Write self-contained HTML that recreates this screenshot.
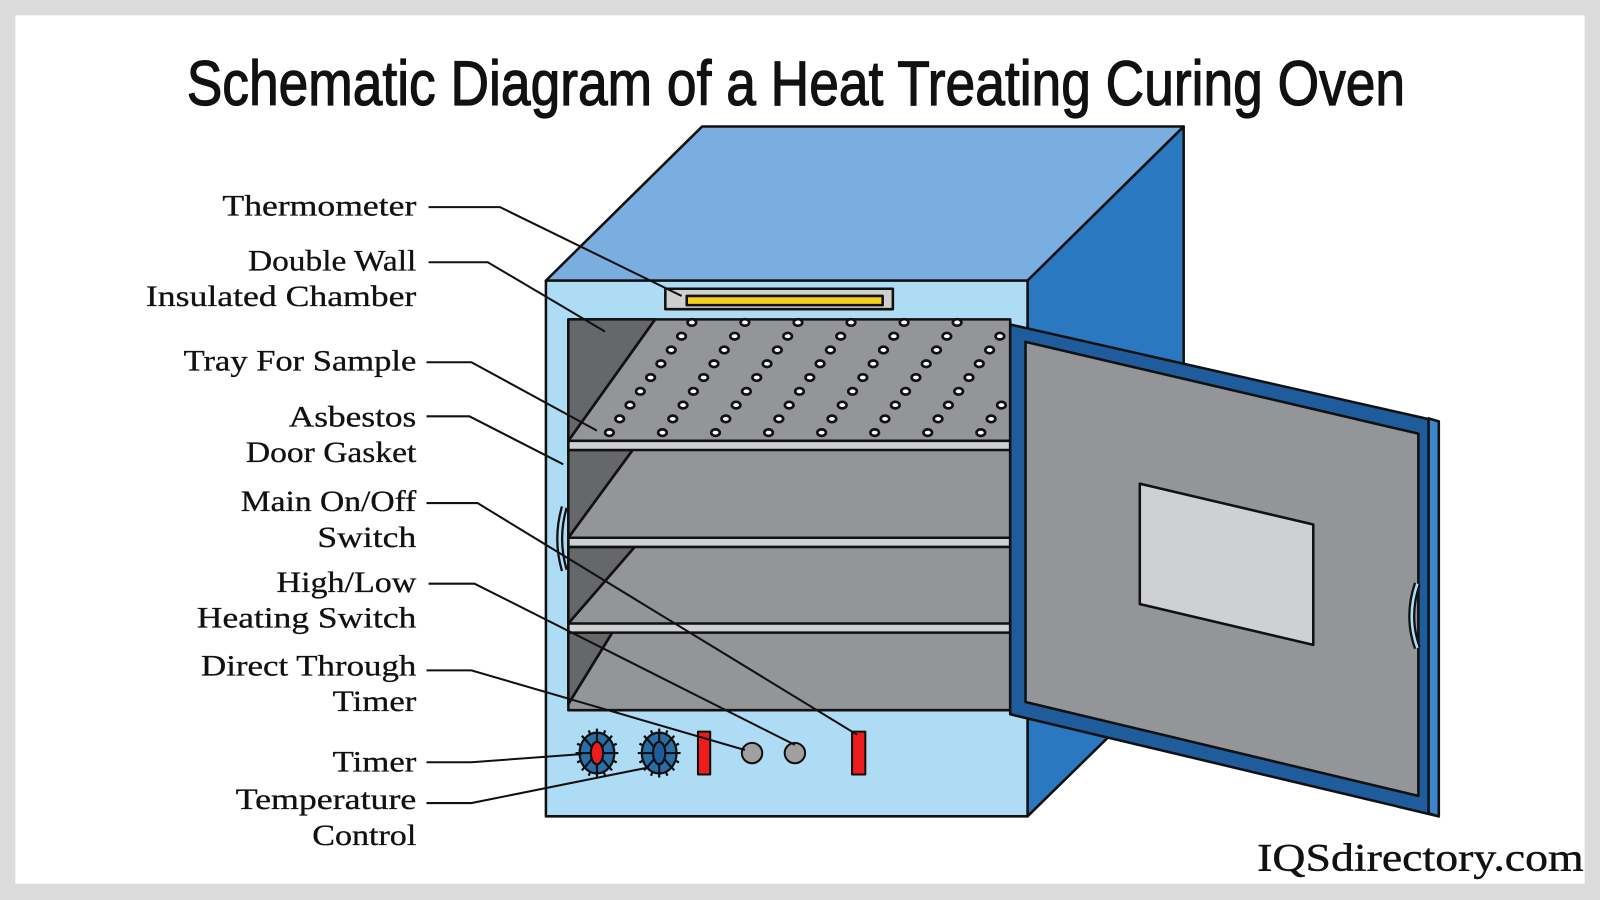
<!DOCTYPE html>
<html><head><meta charset="utf-8"><style>
html,body{margin:0;padding:0;width:1600px;height:900px;overflow:hidden;background:#dcdcdc}
svg{display:block}
.lbl{font-family:"Liberation Serif",serif;font-size:29px;fill:#111;text-anchor:end;stroke:#111;stroke-width:0.3}
</style></head><body>
<svg id="s" width="1600" height="900" viewBox="0 0 1568 882" preserveAspectRatio="none" xmlns="http://www.w3.org/2000/svg">
<rect x="0" y="0" width="1568" height="882" fill="#dcdcdc"/>
<rect x="15" y="15" width="1538" height="851" fill="#fff"/>
<text x="780" y="103" font-family="Liberation Sans Narrow,Liberation Sans,sans-serif" font-size="62" fill="#111" stroke="#111" stroke-width="1.2" text-anchor="middle" textLength="1194" lengthAdjust="spacingAndGlyphs">Schematic Diagram of a Heat Treating Curing Oven</text>

<g stroke="#111" stroke-width="2.5" stroke-linejoin="round">
<polygon points="535,275 688,124 1160,124 1007,275" fill="#7aaee0"/>
<polygon points="1007,275 1160,124 1160,650 1007,800" fill="#2a78c0"/>
<rect x="535" y="275" width="472" height="525" fill="#aedcf5"/>
<rect x="557" y="313" width="433" height="383" fill="#939598"/>
<polygon points="557,313 642,313 557,432" fill="#666769"/>
<polygon points="557,441 620,441 557,527" fill="#666769"/>
<polygon points="557,536 622,536 557,611" fill="#666769"/>
<polygon points="557,620 600,620 557,690" fill="#666769"/>
<line x1="642" y1="313" x2="557" y2="432"/>
<line x1="620" y1="441" x2="557" y2="527"/>
<line x1="622" y1="536" x2="557" y2="611"/>
<line x1="600" y1="620" x2="557" y2="690"/>
<rect x="557" y="432" width="433" height="9" fill="#cfd0d2"/>
<rect x="557" y="527" width="433" height="9" fill="#cfd0d2"/>
<rect x="557" y="611" width="433" height="9" fill="#cfd0d2"/>
<rect x="652" y="283" width="223" height="20" fill="#cfcfcf"/>
<rect x="673" y="290" width="192" height="9" fill="#f5cf1e"/>
<g id="dots" stroke-width="2.6" fill="#fff"></g>

<path d="M553,497 q-9,31 0,62" fill="none" stroke-width="7"/>
<path d="M553,497 q-9,31 0,62" fill="none" stroke="#aedcf5" stroke-width="2.5"/>

<polygon points="990,318 1410,413 1410,800 990,700" fill="#1e5c9c"/>
<polygon points="1400,410 1410,413 1410,800 1400,797" fill="#3d86cc"/>
<polygon points="1005,335 1390,425 1390,780 1005,688" fill="#939598"/>
<polygon points="1117,474 1287,514 1287,632 1117,592" fill="#cfd0d2"/>
<path d="M1389,572 q-11,32 0,63" fill="none" stroke-width="7"/>
<path d="M1389,572 q-11,32 0,63" fill="none" stroke="#aedcf5" stroke-width="2.5"/>

<rect x="684" y="717" width="12" height="42" fill="#ee1c1c" stroke-width="2"/>
<rect x="835" y="717" width="13" height="42" fill="#ee1c1c" stroke-width="2"/>
<circle cx="737" cy="738" r="10" fill="#a0a0a0" stroke-width="2"/>
<circle cx="779" cy="738" r="10" fill="#a0a0a0" stroke-width="2"/>
<g id="knobs" stroke-width="2.2"></g>
</g>

<g fill="none" stroke="#111" stroke-width="2">
<polyline points="420,203 490,203 668,290"/>
<polyline points="420,257 478,257 593,325"/>
<polyline points="418,355 462,355 585,422"/>
<polyline points="418,408 460,408 552,455"/>
<polyline points="418,493 468,493 840,720"/>
<polyline points="420,572 465,572 779,730"/>
<polyline points="418,657 462,657 730,735"/>
<polyline points="418,747 462,747 570,739"/>
<polyline points="418,787 462,787 636,752"/>
</g>

<text class="lbl" x="408" y="211" textLength="190" lengthAdjust="spacingAndGlyphs">Thermometer</text>
<text class="lbl" x="408" y="265" textLength="165" lengthAdjust="spacingAndGlyphs">Double Wall</text>
<text class="lbl" x="408" y="300" textLength="265" lengthAdjust="spacingAndGlyphs">Insulated Chamber</text>
<text class="lbl" x="408" y="363" textLength="228" lengthAdjust="spacingAndGlyphs">Tray For Sample</text>
<text class="lbl" x="408" y="418" textLength="125" lengthAdjust="spacingAndGlyphs">Asbestos</text>
<text class="lbl" x="408" y="453" textLength="167" lengthAdjust="spacingAndGlyphs">Door Gasket</text>
<text class="lbl" x="408" y="501" textLength="172" lengthAdjust="spacingAndGlyphs">Main On/Off</text>
<text class="lbl" x="408" y="536" textLength="97" lengthAdjust="spacingAndGlyphs">Switch</text>
<text class="lbl" x="408" y="580" textLength="137" lengthAdjust="spacingAndGlyphs">High/Low</text>
<text class="lbl" x="408" y="615" textLength="215" lengthAdjust="spacingAndGlyphs">Heating Switch</text>
<text class="lbl" x="408" y="662" textLength="211" lengthAdjust="spacingAndGlyphs">Direct Through</text>
<text class="lbl" x="408" y="697" textLength="82" lengthAdjust="spacingAndGlyphs">Timer</text>
<text class="lbl" x="408" y="756" textLength="82" lengthAdjust="spacingAndGlyphs">Timer</text>
<text class="lbl" x="408" y="793" textLength="177" lengthAdjust="spacingAndGlyphs">Temperature</text>
<text class="lbl" x="408" y="828" textLength="102" lengthAdjust="spacingAndGlyphs">Control</text>
<text x="1552" y="853" font-family="Liberation Serif,serif" font-size="38" fill="#111" stroke="#111" stroke-width="0.4" text-anchor="end" textLength="320" lengthAdjust="spacingAndGlyphs">IQSdirectory.com</text>
</svg>
<script>
var NS="http://www.w3.org/2000/svg";
var d=document.getElementById("dots");
for(var r=0;r<9;r++){var y=316+r*13.5,x0=678-r*10.1;for(var x=x0;x<985;x+=52){if(x<560)continue;var e=document.createElementNS(NS,"ellipse");e.setAttribute("cx",x.toFixed(1));e.setAttribute("cy",y);e.setAttribute("rx",4.2);e.setAttribute("ry",3.2);d.appendChild(e);}}
var k=document.getElementById("knobs");
[[585,738,"#ee1c1c"],[646,738,"#1e5c9c"]].forEach(function(p){
for(var i=0;i<16;i++){var a=i*Math.PI/8;var l=document.createElementNS(NS,"line");l.setAttribute("x1",p[0]);l.setAttribute("y1",p[1]);l.setAttribute("x2",(p[0]+21*Math.cos(a)).toFixed(1));l.setAttribute("y2",(p[1]+24*Math.sin(a)).toFixed(1));k.appendChild(l);}
var c=document.createElementNS(NS,"ellipse");c.setAttribute("cx",p[0]);c.setAttribute("cy",p[1]);c.setAttribute("rx",17);c.setAttribute("ry",20);c.setAttribute("fill","#2a6ea8");k.appendChild(c);
for(var i=0;i<8;i++){var a=i*Math.PI/4;var l=document.createElementNS(NS,"line");l.setAttribute("x1",p[0]);l.setAttribute("y1",p[1]);l.setAttribute("x2",(p[0]+17*Math.cos(a)).toFixed(1));l.setAttribute("y2",(p[1]+20*Math.sin(a)).toFixed(1));k.appendChild(l);}
var m=document.createElementNS(NS,"ellipse");m.setAttribute("cx",p[0]);m.setAttribute("cy",p[1]);m.setAttribute("rx",6);m.setAttribute("ry",11);m.setAttribute("fill",p[2]);k.appendChild(m);
});
</script>
</body></html>
